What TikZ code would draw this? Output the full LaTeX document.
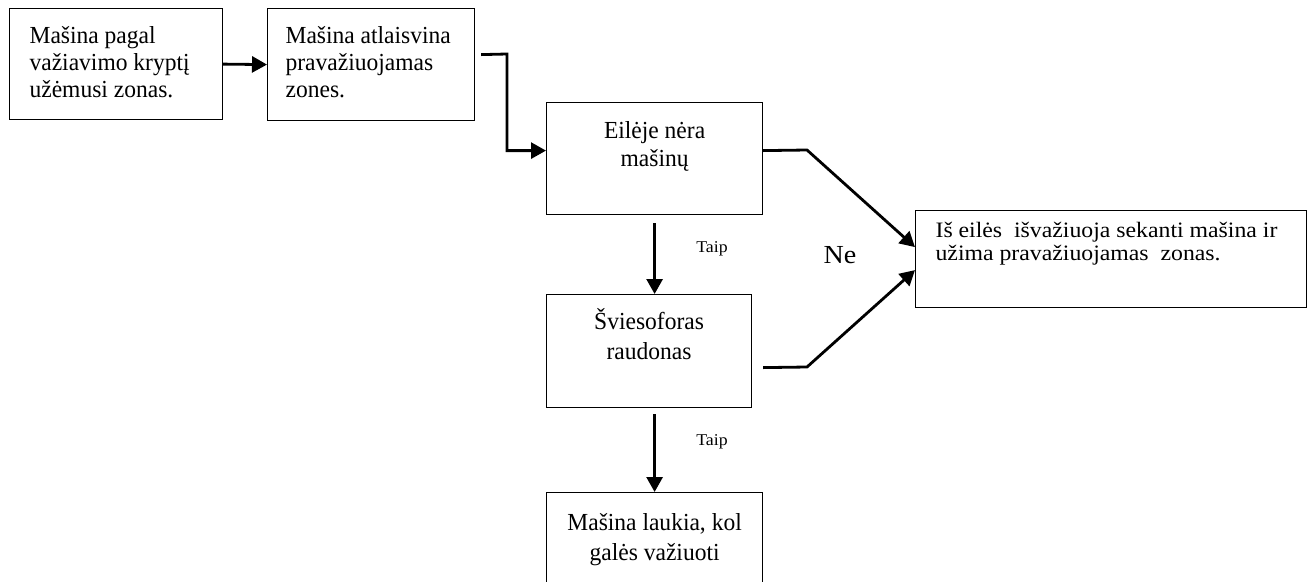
\documentclass[tikz,border=0pt]{standalone}
\usepackage{fontspec}
\setmainfont{Liberation Serif}[FakeStretch=0.96]
\newfontfamily\widefam{Liberation Serif}[FakeStretch=1.08]
\usetikzlibrary{arrows.meta}

% box body: width, height, first baseline, font size, leading, alignment, text
\newcommand{\bxbody}[7]{%
  \parbox[c][#2][t]{#1}{\fontsize{#4}{#5}\selectfont #6\rule{0pt}{#3}#7}}

\tikzset{
  x=1pt, y=-1pt,
  stepbox/.style={draw, line width=1.2pt, inner sep=0pt, anchor=north west},
  conn/.style={line width=2.8pt, -{Triangle[length=15pt,width=16pt]}},
  small/.style={font=\widefam\fontsize{16.5}{19}\selectfont, anchor=base},
  big/.style={font=\widefam\fontsize{26}{30}\selectfont, anchor=base},
}

\begin{document}
\begin{tikzpicture}
\useasboundingbox (0,0) rectangle (1313,581);
\clip (0,0) rectangle (1313,581);

% boxes
\node[stepbox] (A) at (9,8)
  {\bxbody{213pt}{111pt}{35pt}{24.5}{27}{\raggedright\leftskip=20pt}{Mašina pagal\\važiavimo kryptį\\užėmusi zonas.}};
\node[stepbox] (B) at (267,8)
  {\bxbody{207pt}{112pt}{35pt}{24.5}{27}{\raggedright\leftskip=18pt}{Mašina atlaisvina\\pravažiuojamas\\zones.}};
\node[stepbox] (C) at (546,102)
  {\bxbody{216pt}{112pt}{36pt}{24.5}{27.5}{\centering}{Eilėje nėra\\mašinų}};
\node[stepbox] (D) at (546,294)
  {\bxbody{205pt}{113pt}{34.5pt}{24.5}{30}{\centering}{Šviesoforas\\raudonas}};
\node[stepbox] (E) at (546,492)
  {\bxbody{216pt}{110pt}{38pt}{24.5}{30}{\centering}{Mašina laukia, kol\\galės važiuoti}};
\node[stepbox] (F) at (915,210)
  {\bxbody{391pt}{97pt}{27pt}{22}{23}{\widefam\raggedright\leftskip=20pt}{Iš eilės\ \ išvažiuoja sekanti mašina ir\\užima pravažiuojamas\ \ zonas.}};

% bend points
\coordinate (b1) at (507,54);
\coordinate (c1) at (807,150);
\coordinate (d1) at (807,367);

% connectors
\draw[conn] (A.east) -- (B.west);
\draw[conn] ([xshift=6pt,yshift=10pt]B.east) -- (b1) |- ([yshift=8pt]C.west);
\draw[conn] ([yshift=8pt]C.east) -- (c1) -- ([yshift=12pt]F.west);
\draw[conn] ([xshift=11pt,yshift=-16.5pt]D.east) -- (d1) -- ([yshift=-11pt]F.west);
\draw[conn] ([yshift=-8pt]C.south) -- (C.south |- D.north);
\draw[conn] ([yshift=-6pt]D.south -| E.north) -- (E.north);

% labels
\node[small] (t1) at (712,252) {Taip};
\node[small] (t2) at (712,445) {Taip};
\node[big] (ne) at (840,263) {Ne};
\end{tikzpicture}
\end{document}
